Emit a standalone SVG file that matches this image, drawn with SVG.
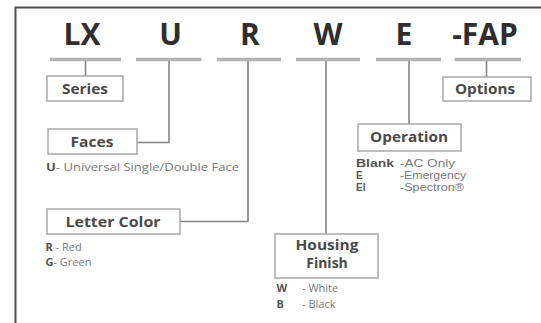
<svg xmlns="http://www.w3.org/2000/svg" width="541" height="323" viewBox="0 0 541 323">
<style>
.code{font-family:"Open Sans","Liberation Sans",sans-serif;font-weight:700;font-size:30px;fill:#2e2e2e;text-anchor:middle}
.bar{stroke:#b3b3b3;stroke-width:3.5;fill:none}
.con{stroke:#858585;stroke-width:1.6;fill:none}
.box{fill:#fff;stroke:#a8a8a8;stroke-width:1.5}
.lbl{font-family:"Open Sans","Liberation Sans",sans-serif;font-weight:700;font-size:14px;fill:#4a4a4a;text-anchor:middle}
.desc{font-family:"Open Sans","Liberation Sans",sans-serif;font-size:11px;fill:#777}
.op{font-family:"Liberation Sans","Open Sans",sans-serif;font-size:10px;fill:#777}
.key{font-weight:700;fill:#555}
</style>
<rect width="541" height="323" fill="#fff"/>
<g id="frame"><path d="M15.5 323V7.5H541" stroke="#4d4d4d" stroke-width="2" fill="none"/></g>
<g id="codes">
<text class="code" x="82" y="45">LX</text>
<text class="code" x="170.5" y="45">U</text>
<text class="code" x="250" y="45">R</text>
<text class="code" x="328" y="45">W</text>
<text class="code" x="404" y="45">E</text>
<text class="code" x="485" y="45">-FAP</text>
</g>
<g id="connectors">
<path class="bar" d="M50 59.5H121M136 59.5H201.5M217 59.5H281M296 59.5H360M376 59.5H441M454.5 59.5H521"/>
<path class="con" d="M85.5 61V76"/>
<path class="con" d="M169 61V142.5H137"/>
<path class="con" d="M248 61V221.5H180"/>
<path class="con" d="M326 61V234"/>
<path class="con" d="M409 61V124"/>
<path class="con" d="M486.5 61V77"/>
</g>
<g id="series">
<rect class="box" x="47" y="76" width="76" height="25"/>
<text class="lbl" x="85" y="93.5" textLength="46" lengthAdjust="spacingAndGlyphs">Series</text>
</g>
<g id="options">
<rect class="box" x="443" y="77" width="88" height="24"/>
<text class="lbl" x="485" y="94" textLength="60" lengthAdjust="spacingAndGlyphs">Options</text>
</g>
<g id="faces">
<rect class="box" x="48" y="129" width="89" height="25"/>
<text class="lbl" x="92" y="147" textLength="43" lengthAdjust="spacingAndGlyphs">Faces</text>
<text class="desc" x="46" y="171" textLength="193" lengthAdjust="spacingAndGlyphs"><tspan class="key">U</tspan>- Universal Single/Double Face</text>
</g>
<g id="letter-color">
<rect class="box" x="47" y="209" width="133" height="25"/>
<text class="lbl" x="113" y="226.5" textLength="95" lengthAdjust="spacingAndGlyphs">Letter Color</text>
<text class="desc" x="45.5" y="250.5"><tspan class="key">R</tspan> - Red</text>
<text class="desc" x="45.5" y="266"><tspan class="key">G</tspan>- Green</text>
</g>
<g id="operation">
<rect class="box" x="358" y="124" width="103" height="27"/>
<text class="lbl" x="409" y="142" textLength="78" lengthAdjust="spacingAndGlyphs">Operation</text>
<text class="op key" x="356" y="167" textLength="38" lengthAdjust="spacingAndGlyphs">Blank</text>
<text class="op" x="400" y="167" textLength="55" lengthAdjust="spacingAndGlyphs">-AC Only</text>
<text class="op key" x="356" y="179">E</text>
<text class="op" x="400" y="179" textLength="66" lengthAdjust="spacingAndGlyphs">-Emergency</text>
<text class="op key" x="356" y="191">EI</text>
<text class="op" x="400" y="191" textLength="64" lengthAdjust="spacingAndGlyphs">-Spectron®</text>
</g>
<g id="housing-finish">
<rect class="box" x="275" y="234" width="103" height="44"/>
<text class="lbl" x="327" y="249.5" textLength="63" lengthAdjust="spacingAndGlyphs">Housing</text>
<text class="lbl" x="327" y="268">Finish</text>
<text class="desc" x="276.5" y="292"><tspan class="key">W</tspan></text>
<text class="desc" x="302" y="292">- White</text>
<text class="desc" x="276.5" y="307.5"><tspan class="key">B</tspan></text>
<text class="desc" x="302" y="307.5">- Black</text>
</g>
</svg>
